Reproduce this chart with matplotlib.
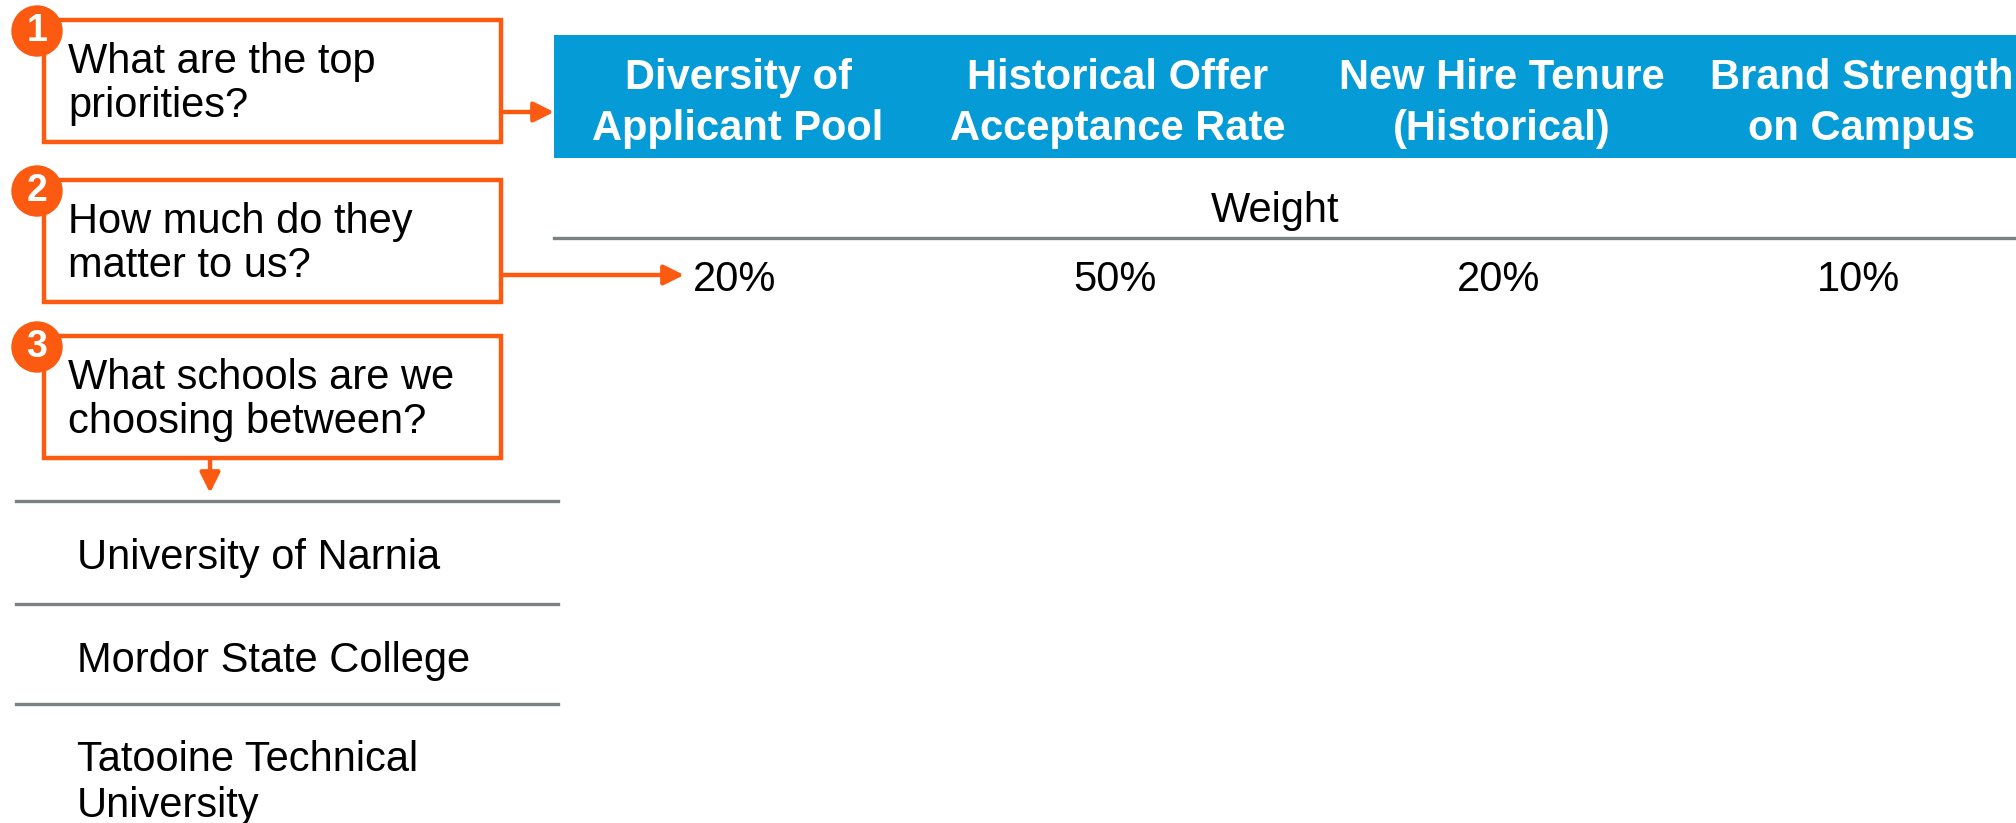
import matplotlib.pyplot as plt
from matplotlib.patches import Rectangle, Circle

# content
questions = ["What are the top\npriorities?",
             "How much do they\nmatter to us?",
             "What schools are we\nchoosing between?"]
criteria = ["Diversity of\nApplicant Pool", "Historical Offer\nAcceptance Rate",
            "New Hire Tenure\n(Historical)", "Brand Strength\non Campus"]
weights = [20, 50, 20, 10]
schools = ["University of Narnia", "Mordor State College",
           "Tatooine Technical\nUniversity"]
weight_label = "Weight"

orange = "#fb5a10"
blue = "#049bd6"
grey = "#7b8183"

plt.rcParams['font.family'] = ['Liberation Sans', 'DejaVu Sans']
FS = 30

W, H = 2016, 823
fig = plt.figure(figsize=(W / 100, H / 100), dpi=100)
ax = fig.add_axes([0, 0, 1, 1])
ax.set_xlim(0, W)
ax.set_ylim(H, 0)
ax.axis('off')

# question boxes with numbered badges
box_x0, box_x1 = 44, 501
box_tops = [20, 180, 336]
box_h = 122
for i, (q, top) in enumerate(zip(questions, box_tops)):
    ax.add_patch(Rectangle((box_x0, top), box_x1 - box_x0, box_h, fill=False,
                           ec=orange, lw=3.2, zorder=2))
    ax.text(68, top + box_h / 2 + 3, q, fontsize=FS, va='center', ha='left',
            linespacing=1.12, zorder=3)
    ax.add_patch(Circle((37, top + 11), 25, color=orange, zorder=4))
    ax.text(37, top + 11, str(i + 1), color='white', fontsize=27,
            fontweight='bold', ha='center', va='center', zorder=5)

arrow_kw = dict(arrowstyle='-|>', color=orange, lw=3.2, mutation_scale=30,
                shrinkA=0, shrinkB=0)

# header band
head_x0, head_top, head_bot = 554, 35, 158
ax.add_patch(Rectangle((head_x0, head_top), W - head_x0, head_bot - head_top,
                       color=blue, lw=0, zorder=1))
col_centers = [738, 1118, 1502, 1862]
for name, cx in zip(criteria, col_centers):
    ax.text(cx, (head_top + head_bot) / 2 + 7, name, color='white',
            fontsize=FS, fontweight='bold', ha='center', va='center',
            linespacing=1.38)

ax.annotate('', xy=(head_x0, 112), xytext=(box_x1, 112), arrowprops=arrow_kw)

# weights
ax.text(1275, 211, weight_label, fontsize=FS, ha='center', va='center')
ax.plot([head_x0, W], [238, 238], color=grey, lw=2.4)
for w, cx in zip(weights, col_centers):
    ax.text(cx - 3, 280, f"{w}%", fontsize=FS, ha='center', va='center')
ax.annotate('', xy=(684, 275), xytext=(box_x1, 275), arrowprops=arrow_kw)

# schools
ax.annotate('', xy=(210, 493), xytext=(210, box_tops[2] + box_h),
            arrowprops=arrow_kw)
row_lines = [501, 604, 704]
for y in row_lines:
    ax.plot([16, 558], [y, y], color=grey, lw=2.4)
school_y = [558, 661, 783]
for s, y in zip(schools, school_y):
    ax.text(77, y, s, fontsize=FS, ha='left', va='center', linespacing=1.2)

fig.savefig('out.png', dpi=100)
